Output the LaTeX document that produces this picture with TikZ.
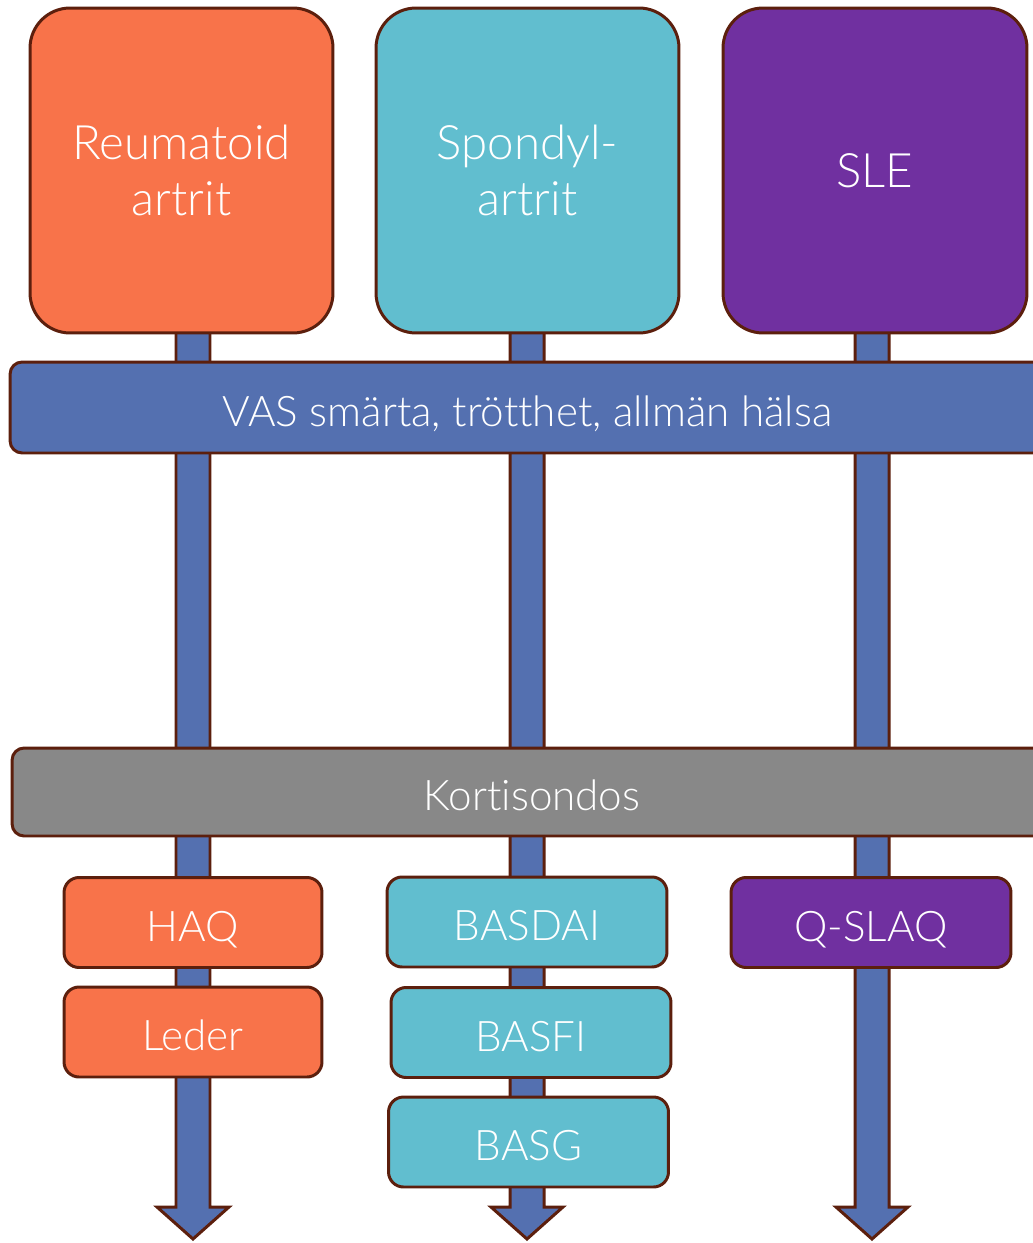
\documentclass[tikz,border=0pt]{standalone}
\usepackage{fontspec}
\IfFontExistsTF{Lato Light}
    {\setmainfont{Lato Light}[Ligatures = {NoCommon, NoRequired, NoContextual}]}
    {\setmainfont{Lato}[Ligatures = {NoCommon, NoRequired, NoContextual}]}
\usetikzlibrary{calc,backgrounds}

\definecolor{raorange}{HTML}{F8734A}
\definecolor{spacyan}{HTML}{61BECF}
\definecolor{slepurple}{HTML}{7030A0}
\definecolor{flowblue}{HTML}{5470B0}
\definecolor{dosegray}{HTML}{888888}
\definecolor{edgebrown}{HTML}{5C1F0D}

\tikzset{
    box/.style = {draw = edgebrown, line width = 1.7pt, text = white, inner sep = 0pt, align = center},
    diagnosis/.style = {box, rounded corners = 0.8cm, minimum width = 6.06cm, minimum height = 6.5cm,
        font = \fontsize{27}{32}\selectfont},
    band/.style = {box, rounded corners = 0.24cm, text height = 21.6pt, text depth = 0pt,
        font = \fontsize{24}{28}\selectfont},
    measure/.style = {box, rounded corners = 0.3cm, minimum width = 5.6cm, minimum height = 1.8cm,
        text height = 21.6pt, text depth = 0pt, font = \fontsize{24}{28}\selectfont},
    fatarrow/.style = {draw = edgebrown, line width = 1.7pt, fill = flowblue, line join = miter}
}

\begin{document}
\begin{tikzpicture}[x = 0.02cm, y = -0.02cm]
    \useasboundingbox (0,0) rectangle (1032,1243);

    % diagnoses
    \node[diagnosis, fill = raorange] (ra) at (181.5,170.5) {Reumatoid\\artrit};
    \node[diagnosis, fill = spacyan] (spa) at (527.5,170.5) {Spondyl-\\artrit};
    \node[diagnosis, fill = slepurple, minimum width = 6.08cm] (sle) at (875,170.5) {SLE};

    % common bands
    \node[band, fill = flowblue, minimum width = 20.7cm, minimum height = 1.82cm] (vas) at (527.5,407.5)
        {VAS smärta, trötthet, allmän hälsa};
    \node[band, fill = dosegray, minimum width = 20.8cm, minimum height = 1.76cm] (dose) at (532,792)
        {Kortisondos};

    % measures
    \node[measure, fill = raorange, minimum width = 5.16cm] (haq) at (193,922.5) {HAQ};
    \node[measure, fill = raorange, minimum width = 5.16cm] (leder) at (193,1032) {Leder};
    \node[measure, fill = spacyan] (basdai) at (527,922) {BASDAI};
    \node[measure, fill = spacyan] (basfi) at (531,1032.5) {BASFI};
    \node[measure, fill = spacyan] (basg) at (528.5,1142) {BASG};
    \node[measure, fill = slepurple] (qslaq) at (871,922.5) {Q-SLAQ};

    % arrows behind everything
    \coordinate (ra-tip) at (193,1239);
    \coordinate (spa-tip) at (527,1239);
    \coordinate (sle-tip) at (872,1239);
    \begin{pgfonlayer}{background}
        \foreach \b in {ra,spa,sle}
            \draw[fatarrow] ($(\b-tip |- \b.center)+(-17,0)$) -- ($(\b-tip)+(-17,-32)$)
                -- ($(\b-tip)+(-36,-32)$) -- (\b-tip) -- ($(\b-tip)+(36,-32)$)
                -- ($(\b-tip)+(17,-32)$) -- ($(\b-tip |- \b.center)+(17,0)$) -- cycle;
    \end{pgfonlayer}
\end{tikzpicture}
\end{document}
